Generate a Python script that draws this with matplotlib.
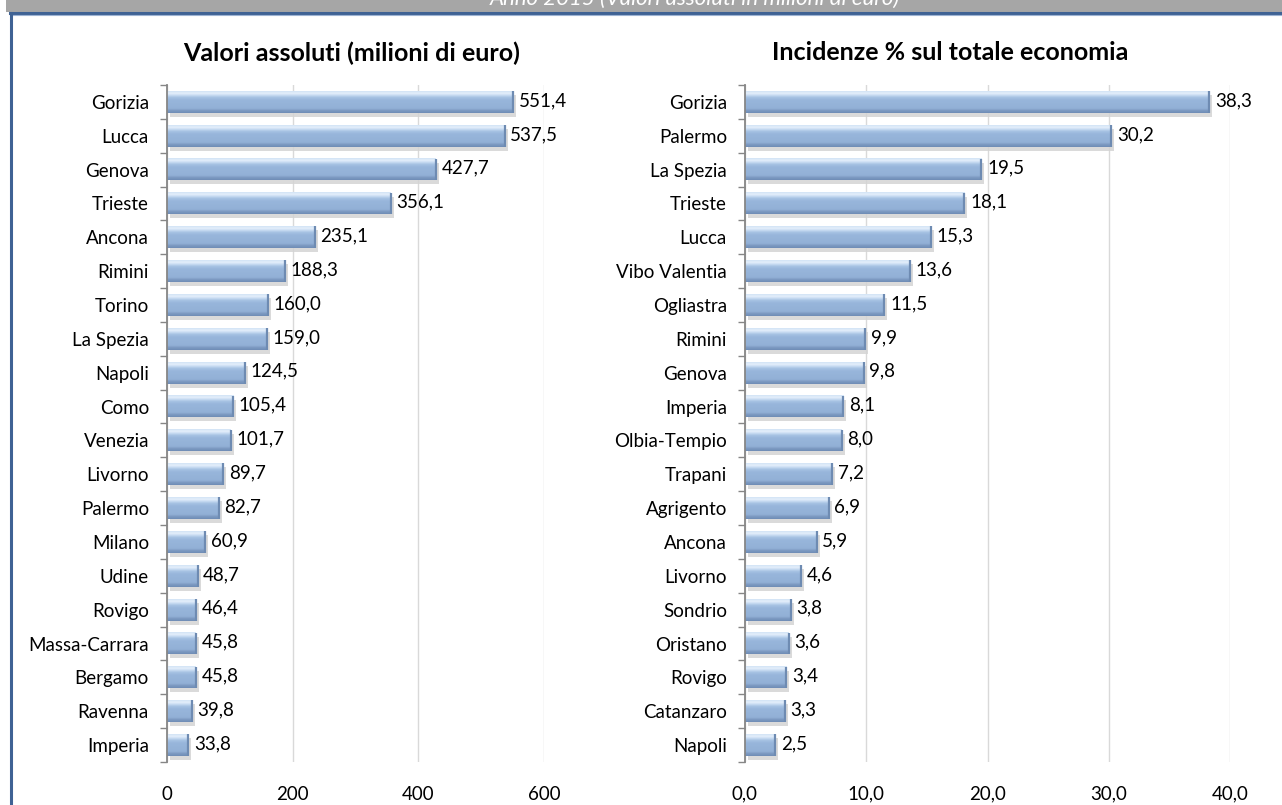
import matplotlib
matplotlib.use("Agg")
import matplotlib.pyplot as plt
import numpy as np
from matplotlib.colors import LinearSegmentedColormap
import matplotlib.transforms as mtransforms

plt.rcParams['font.family'] = ['Lato', 'DejaVu Sans']

# ---- data ----
left_cats = ["Gorizia", "Lucca", "Genova", "Trieste", "Ancona", "Rimini", "Torino",
             "La Spezia", "Napoli", "Como", "Venezia", "Livorno", "Palermo", "Milano",
             "Udine", "Rovigo", "Massa-Carrara", "Bergamo", "Ravenna", "Imperia"]
left_vals = [551.4, 537.5, 427.7, 356.1, 235.1, 188.3, 160.0, 159.0, 124.5, 105.4,
             101.7, 89.7, 82.7, 60.9, 48.7, 46.4, 45.8, 45.8, 39.8, 33.8]

right_cats = ["Gorizia", "Palermo", "La Spezia", "Trieste", "Lucca", "Vibo Valentia",
              "Ogliastra", "Rimini", "Genova", "Imperia", "Olbia-Tempio", "Trapani",
              "Agrigento", "Ancona", "Livorno", "Sondrio", "Oristano", "Rovigo",
              "Catanzaro", "Napoli"]
right_vals = [38.3, 30.2, 19.5, 18.1, 15.3, 13.6, 11.5, 9.9, 9.8, 8.1, 8.0, 7.2,
              6.9, 5.9, 4.6, 3.8, 3.6, 3.4, 3.3, 2.5]

left_ticks = [0, 200, 400, 600]
left_ticklabels = ["0", "200", "400", "600"]
right_ticks = [0, 10, 20, 30, 40]
right_ticklabels = ["0,0", "10,0", "20,0", "30,0", "40,0"]

left_title = "Valori assoluti (milioni di euro)"
right_title = "Incidenze % sul totale economia"
banner = "Anno 2015 (Valori assoluti in milioni di euro)"

W, H = 1282, 805
fig = plt.figure(figsize=(W / 100, H / 100), dpi=100)
fig.patch.set_facecolor("white")

# banner and frame
fig.patches.append(plt.Rectangle((6 / W, 1 - 12 / H), 1, 12 / H, transform=fig.transFigure,
                                 facecolor="#A6A6A6", edgecolor="none", zorder=0))
fig.add_artist(plt.Line2D([10 / W, 1], [1 - 13 / H] * 2, transform=fig.transFigure,
                          color="#3F6294", lw=2.2))
fig.add_artist(plt.Line2D([10 / W, 1], [1 - 14.8 / H] * 2, transform=fig.transFigure,
                          color="#9DB3D3", lw=0.8))
fig.add_artist(plt.Line2D([11 / W] * 2, [0, 1 - 13 / H], transform=fig.transFigure,
                          color="#3F6294", lw=2.2))
fig.text(695 / W, 1 - 5 / H, banner, color="white", style="italic", fontsize=16,
         ha="center", va="baseline")

grad = LinearSegmentedColormap.from_list(
    "bar", [(0.0, "#6F8DB6"), (0.12, "#7E9BC3"), (0.2, "#92B0D6"), (0.6, "#98B6DB"),
            (0.72, "#A6C2E3"), (0.82, "#C9DCF2"), (0.9, "#E4EFFB"), (1.0, "#D2E3F5")])
gradimg = np.linspace(1, 0, 64).reshape(-1, 1)

FS = 13.5

def panel(rect, cats, vals, xmax, ticks, ticklabels, fmt):
    ax = fig.add_axes(rect)
    n = len(cats)
    y = np.arange(n)
    h = 0.64
    # shadow
    sh = mtransforms.offset_copy(ax.transData, fig=fig, x=3, y=-4, units="dots")
    ax.barh(y, vals, height=h, color="#D4D4D4", transform=sh, zorder=2, alpha=0.85)
    # gradient bars
    for yi, v in zip(y, vals):
        ax.imshow(gradimg, cmap=grad, aspect="auto", origin="upper",
                  extent=(0, v, yi + h / 2, yi - h / 2), zorder=3, interpolation="bilinear")
    ax.vlines(vals, y - h / 2, y + h / 2, color="#6E8BB2", lw=1.6, zorder=4)
    ax.set_ylim(n - 0.5, -0.5)
    ax.set_xlim(0, xmax)
    for yi, v in zip(y, vals):
        ax.annotate(fmt(v).replace(".", ","), (v, yi), xytext=(4, 1), textcoords="offset points",
                    va="center", ha="left", fontsize=FS, color="black", zorder=5)
    ax.set_yticks(y)
    ax.set_yticklabels(cats, fontsize=FS)
    ax.set_yticks(np.arange(n + 1) - 0.5, minor=True)
    ax.tick_params(axis="y", which="major", length=0, pad=13)
    ax.tick_params(axis="y", which="minor", length=5, color="#868686", width=1)
    ax.set_xticks(ticks)
    ax.set_xticklabels(ticklabels, fontsize=FS)
    ax.tick_params(axis="x", length=0, pad=17)
    ax.grid(axis="x", color="#D9D9D9", lw=1)
    ax.set_axisbelow(True)
    for s in ["top", "right", "bottom"]:
        ax.spines[s].set_visible(False)
    ax.spines["left"].set_color("#868686")
    ax.spines["left"].set_linewidth(1.3)
    ax.spines["left"].set_zorder(6)
    return ax

ax1 = panel([167 / W, 1 - 762 / H, 377 / W, 677 / H], left_cats, left_vals, 600,
            left_ticks, left_ticklabels, lambda v: f"{v:.1f}")
ax2 = panel([745 / W, 1 - 762 / H, 485 / W, 677 / H], right_cats, right_vals, 40,
            right_ticks, right_ticklabels, lambda v: f"{v:.1f}")

fig.text(352 / W, 1 - 53 / H, left_title, fontsize=18, fontweight="bold",
         ha="center", va="center")
fig.text(950 / W, 1 - 53 / H, right_title, fontsize=18, fontweight="bold",
         ha="center", va="center")

fig.savefig("out.png", dpi=100)
